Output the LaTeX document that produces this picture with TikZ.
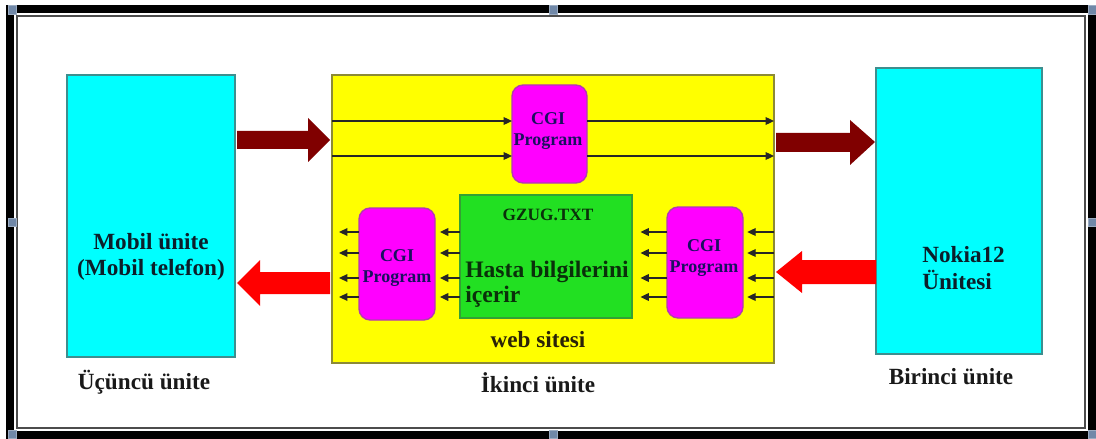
\documentclass[tikz,border=0pt]{standalone}
\usepackage{fontspec}
\setmainfont{Liberation Serif}
\usetikzlibrary{arrows.meta,calc}
\definecolor{cyanf}{HTML}{00FFFF}
\definecolor{cyand}{HTML}{3E8E8E}
\definecolor{ylwf}{HTML}{FFFF00}
\definecolor{ylwd}{HTML}{8C8A36}
\definecolor{magf}{HTML}{FF00FF}
\definecolor{magd}{HTML}{B03CB0}
\definecolor{grnf}{HTML}{22E022}
\definecolor{grnd}{HTML}{34A034}
\definecolor{maroonc}{HTML}{800000}
\definecolor{redc}{HTML}{FF0000}
\definecolor{navyt}{HTML}{1A1060}
\definecolor{darkt}{HTML}{0C1E2A}
\definecolor{grnt}{HTML}{0A300A}
\definecolor{webc}{HTML}{2A2208}
\definecolor{handle}{HTML}{7088A8}
\newcommand{\bx}[6]{\node[#6, minimum width={(#4-#2)*0.025cm}, minimum height={(#5-#3)*0.025cm}] (#1) at ({(#2+#4)/2},{(#3+#5)/2}) {};}
\begin{document}
\begin{tikzpicture}[x=0.025cm,y=-0.025cm,
  box/.style={draw, line width=1pt, inner sep=0pt, outer sep=0pt},
  cyanbox/.style={box, fill=cyanf, draw=cyand},
  ylwbox/.style={box, fill=ylwf, draw=ylwd},
  magbox/.style={box, fill=magf, draw=magd, rounded corners=8pt},
  grnbox/.style={box, fill=grnf, draw=grnd},
  big/.style={font=\fontsize{16.5}{18}\selectfont\bfseries, text=darkt, inner sep=0pt},
  cgi/.style={font=\fontsize{12.8}{15.6}\selectfont\bfseries, text=navyt, inner sep=0pt, align=center},
  sar/.style={draw=black!85, line width=0.9pt, -{Triangle[length=6pt,width=5.5pt]}},
  hnd/.style={fill=handle, draw=handle!70!white, line width=0.4pt, minimum width=5.5pt, minimum height=6pt, inner sep=0pt}]
\useasboundingbox (0,0) rectangle (1096,439);
\fill[white] (0,0) rectangle (1096,439);
% frame
\draw[black, line width=5.7pt] (10,9) rectangle (1092,435);
\draw[black!70, line width=0.9pt] (17,16) rectangle (1085,428);
\foreach \n/\p in {h1/{(12,10)}, h2/{(553,10)}, h3/{(1092,10)}, h4/{(12,222)}, h5/{(1092,222)}, h6/{(12,434)}, h7/{(553,434)}, h8/{(1092,434)}}
  \node[hnd] (\n) at \p {};
% boxes
\bx{mob}{67}{75}{235}{357}{cyanbox}
\bx{nok}{876}{68}{1042}{354}{cyanbox}
\bx{web}{332}{75}{774}{363}{ylwbox}
\bx{cgit}{512}{85}{587}{183}{magbox}
\bx{cgil}{359}{208}{435}{320}{magbox}
\bx{cgir}{667}{207}{743}{318}{magbox}
\bx{gz}{460}{195}{632}{318}{grnbox}
% texts
\node[big, align=center, text=darkt] (mobt) at (151,257) {Mobil ünite\\(Mobil telefon)};
\node[big, align=left, anchor=west, font=\fontsize{16.5}{19.5}\selectfont\bfseries] (nokt) at (922,268) {Nokia12\\Ünitesi};
\node[cgi] (cgitt) at (548,131) {CGI\\Program};
\node[cgi] (cgilt) at (397,268) {CGI\\Program};
\node[cgi] (cgirt) at (704,258) {CGI\\Program};
\node[font=\fontsize{12.3}{14}\selectfont\bfseries, text=grnt, inner sep=0pt] (gzt) at (548,215) {GZUG.TXT};
\node[big, text=grnt, align=left, anchor=west, font=\fontsize{16.8}{18}\selectfont\bfseries] (hst) at (465,284) {Hasta bilgilerini\\içerir};
\node[big, text=webc] (webt) at (538,340) {web sitesi};
\node[big, text=black!90] (l1) at (144,382) {Üçüncü ünite};
\node[big, text=black!90] (l2) at (538,383) {İkinci ünite};
\node[big, text=black!90] (l3) at (951,377) {Birinci ünite};
% top lines through upper CGI program
\coordinate (r1) at (0,121);
\coordinate (r2) at (0,156);
\foreach \r in {r1,r2}{
  \draw[sar] (web.west |- \r) -- (cgit.west |- \r);
  \draw[sar] (cgit.east |- \r) -- (web.east |- \r);
}
% lower small arrows
\foreach \y [count=\i] in {232,253,278,297}{
  \coordinate (q\i) at (0,\y);
  \draw[sar, shorten >=5pt] (cgil.west |- q\i) -- (web.west |- q\i);
  \draw[sar, shorten >=3.5pt] (gz.west |- q\i) -- (cgil.east |- q\i);
  \draw[sar, shorten >=6pt] (cgir.west |- q\i) -- (gz.east |- q\i);
  \draw[sar, shorten >=3pt] (web.east |- q\i) -- (cgir.east |- q\i);
}
% big block arrows
\fill[maroonc] (237,131) -- (308,131) -- (308,118) -- (330,140) -- (308,162) -- (308,149) -- (237,149) -- cycle;
\fill[maroonc] (776,133) -- (850,133) -- (850,120) -- (875,142) -- (850,165) -- (850,152) -- (776,152) -- cycle;
\fill[redc] (330,272) -- (260,272) -- (260,260) -- (237,283) -- (260,306) -- (260,294) -- (330,294) -- cycle;
\fill[redc] (876,260) -- (802,260) -- (802,251) -- (776,272) -- (802,293) -- (802,284) -- (876,284) -- cycle;
\end{tikzpicture}
\end{document}
